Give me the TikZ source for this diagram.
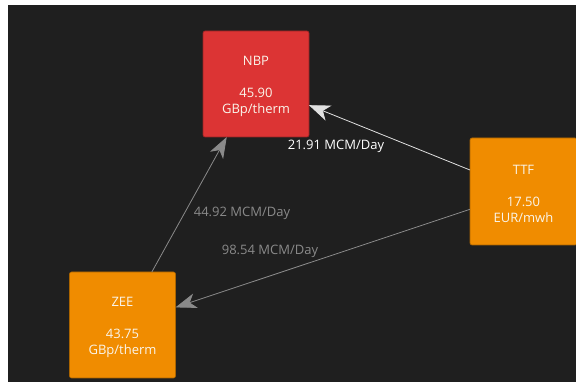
\documentclass[tikz,border=0pt]{standalone}
\usepackage{fontspec}
\setmainfont{Open Sans}
\usetikzlibrary{arrows.meta}
\definecolor{bgdark}{RGB}{31,31,31}
\definecolor{nbpred}{RGB}{220,52,52}
\definecolor{nbpredline}{RGB}{150,35,35}
\definecolor{hubor}{RGB}{240,140,0}
\definecolor{huborline}{RGB}{170,100,0}
\definecolor{boxtext}{RGB}{250,245,235}
\definecolor{flowgray}{RGB}{138,138,138}
\definecolor{flowwhite}{RGB}{225,225,225}
\tikzset{
  hub/.style={minimum width=106pt, minimum height=106pt, inner sep=0pt, outer sep=0pt,
    rounded corners=2pt, draw, line width=0.6pt},
  hubtext/.style={text=boxtext, align=center, inner sep=0pt, yshift=-2.5pt,
    font=\fontsize{13}{16}\selectfont},
  redhub/.style={hub, fill=nbpred, draw=nbpredline},
  orhub/.style={hub, fill=hubor, draw=huborline},
  flowg/.style={draw=flowgray, line width=0.8pt, -{Stealth[length=21pt, width=15pt, inset=6pt]}},
  floww/.style={draw=flowwhite, line width=0.8pt, -{Stealth[length=21pt, width=16pt, inset=6pt]}},
  flowlabel/.style={font=\fontsize{13}{15}\selectfont, inner sep=0pt}
}
\begin{document}
\begin{tikzpicture}[x=1pt, y=1pt]
\useasboundingbox (0,0) rectangle (576,382);
\fill[white] (0,0) rectangle (576,382);
\fill[bgdark] (8,0) rectangle (576,377);
\node[redhub, label={[hubtext]center:NBP\\[16pt]45.90\\GBp/therm}] (nbp) at (256,298) {};
\node[orhub, minimum width=107pt, minimum height=107pt, label={[hubtext]center:TTF\\[16pt]17.50\\EUR/mwh}] (ttf) at (523.5,190.5) {};
\node[orhub, label={[hubtext]center:ZEE\\[16pt]43.75\\GBp/therm}] (zee) at (122.5,57) {};
\draw[floww] (ttf) -- (nbp);
\draw[flowg] (ttf) -- (zee);
\draw[flowg] (zee) -- (nbp);
\node[flowlabel, text=white] (l1) at (336,236) {21.91 MCM/Day};
\node[flowlabel, text=flowgray] (l2) at (242,169) {44.92 MCM/Day};
\node[flowlabel, text=flowgray] (l3) at (270,130.5) {98.54 MCM/Day};
\end{tikzpicture}
\end{document}
